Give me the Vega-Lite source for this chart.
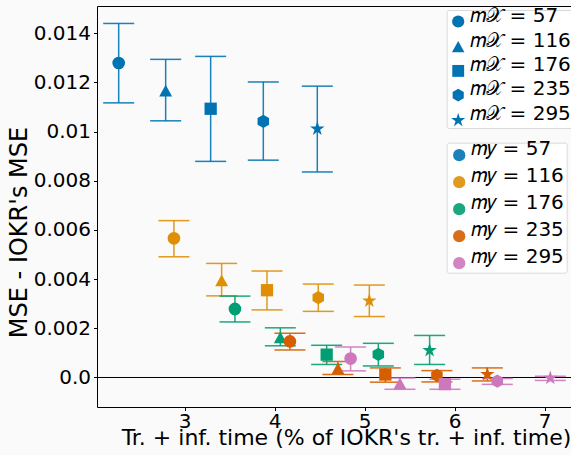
{
  "$schema": "https://vega.github.io/schema/vega-lite/v6.json",
  "width": 474,
  "height": 401,
  "autosize": {"type": "none"},
  "padding": {"left": 97, "top": 6, "right": 0, "bottom": 48},
  "background": "#fafafa",
  "config": {
    "view": {"stroke": null},
    "font": "DejaVu Sans",
    "axis": {
      "labelFont": "DejaVu Sans",
      "titleFont": "DejaVu Sans",
      "grid": false,
      "domainColor": "black",
      "domainWidth": 1,
      "tickColor": "black",
      "labelColor": "black",
      "titleColor": "black",
      "titleFontWeight": "normal",
      "labelFontSize": 20,
      "titleFontSize": 22
    }
  },
  "data": {
    "values": [
      {"mx": "57", "my": 57, "t": 2.267, "d": 0.01279, "lo": 0.01117, "hi": 0.0144},
      {"mx": "116", "my": 57, "t": 2.789, "d": 0.01167, "lo": 0.01044, "hi": 0.01294},
      {"mx": "176", "my": 57, "t": 3.289, "d": 0.01093, "lo": 0.00879, "hi": 0.01306},
      {"mx": "235", "my": 57, "t": 3.874, "d": 0.01042, "lo": 0.00884, "hi": 0.01202},
      {"mx": "295", "my": 57, "t": 4.474, "d": 0.01011, "lo": 0.00836, "hi": 0.01185},
      {"mx": "57", "my": 116, "t": 2.881, "d": 0.00566, "lo": 0.00491, "hi": 0.00638},
      {"mx": "116", "my": 116, "t": 3.411, "d": 0.00395, "lo": 0.00332, "hi": 0.00464},
      {"mx": "176", "my": 116, "t": 3.915, "d": 0.00355, "lo": 0.00275, "hi": 0.00433},
      {"mx": "235", "my": 116, "t": 4.485, "d": 0.00325, "lo": 0.00269, "hi": 0.0038},
      {"mx": "295", "my": 116, "t": 5.052, "d": 0.00312, "lo": 0.00248, "hi": 0.00376},
      {"mx": "57", "my": 176, "t": 3.559, "d": 0.00279, "lo": 0.00226, "hi": 0.00331},
      {"mx": "116", "my": 176, "t": 4.063, "d": 0.00163, "lo": 0.00129, "hi": 0.00202},
      {"mx": "176", "my": 176, "t": 4.578, "d": 0.00093, "lo": 0.00053, "hi": 0.00131},
      {"mx": "235", "my": 176, "t": 5.152, "d": 0.00094, "lo": 0.00047, "hi": 0.00139},
      {"mx": "295", "my": 176, "t": 5.722, "d": 0.0011, "lo": 0.00053, "hi": 0.00171},
      {"mx": "57", "my": 235, "t": 4.17, "d": 0.00147, "lo": 0.00112, "hi": 0.0018},
      {"mx": "116", "my": 235, "t": 4.703, "d": 0.00037, "lo": 0.00012, "hi": 0.00065},
      {"mx": "176", "my": 235, "t": 5.23, "d": 0.00012, "lo": -0.00019, "hi": 0.00039},
      {"mx": "235", "my": 235, "t": 5.803, "d": 0.00009, "lo": -0.00018, "hi": 0.00028},
      {"mx": "295", "my": 235, "t": 6.363, "d": 0.00013, "lo": -0.00014, "hi": 0.00039},
      {"mx": "57", "my": 295, "t": 4.844, "d": 0.00077, "lo": 0.00027, "hi": 0.00124},
      {"mx": "116", "my": 295, "t": 5.392, "d": -0.00024, "lo": -0.00048, "hi": -0.00002},
      {"mx": "176", "my": 295, "t": 5.892, "d": -0.00027, "lo": -0.00048, "hi": -0.00007},
      {"mx": "235", "my": 295, "t": 6.474, "d": -0.00015, "lo": -0.00028, "hi": -0.00004},
      {"mx": "295", "my": 295, "t": 7.063, "d": -0.00002, "lo": -0.00012, "hi": 0.00005}
    ]
  },
  "resolve": {"axis": {"x": "independent"}},
  "layer": [
    {
      "data": {"values": [{"ref": 0}]},
      "mark": {"type": "rule", "color": "black", "strokeWidth": 1},
      "encoding": {
        "y": {"field": "ref", "type": "quantitative",
              "scale": {"domain": [-0.0012, 0.01511], "nice": false, "zero": false},
              "axis": {"values": [0, 0.002, 0.004, 0.006, 0.008, 0.01, 0.012, 0.014], "tickSize": 3.5, "labelPadding": 3,
                       "labelExpr": "datum.value == 0 ? '0.0' : format(datum.value, '~g')",
                       "title": "MSE - IOKR's MSE", "titleFontSize": 24,
                       "titleBaseline": "alphabetic", "titleX": -71, "titleY": 226, "titleAlign": "center", "titleAngle": -90}}
      }
    },
    {
      "mark": {"type": "rule", "strokeWidth": 1.5, "opacity": 0.9},
      "encoding": {
        "x": {"field": "t", "type": "quantitative", "scale": {"domain": [2.026, 7.293], "nice": false, "zero": false},
              "axis": {"orient": "top", "labels": false, "ticks": false, "title": null, "domain": true}},
        "y": {"field": "lo", "type": "quantitative"},
        "y2": {"field": "hi"},
        "color": {"field": "my", "type": "nominal",
                  "scale": {"domain": [57, 116, 176, 235, 295], "range": ["#0173b2", "#de8f05", "#029e73", "#d55e00", "#cc78bc"]}}
      }
    },
    {
      "mark": {"type": "tick", "orient": "horizontal", "size": 31, "thickness": 1.5, "opacity": 0.9},
      "encoding": {
        "x": {"field": "t", "type": "quantitative", "axis": null},
        "y": {"field": "lo", "type": "quantitative"},
        "color": {"field": "my", "type": "nominal"}
      }
    },
    {
      "mark": {"type": "tick", "orient": "horizontal", "size": 31, "thickness": 1.5, "opacity": 0.9},
      "encoding": {
        "x": {"field": "t", "type": "quantitative", "axis": null},
        "y": {"field": "hi", "type": "quantitative"},
        "color": {"field": "my", "type": "nominal"}
      }
    },
    {
      "mark": {"type": "point", "filled": true, "opacity": 1, "size": 160, "color": "#0173b2", "strokeWidth": 0},
      "encoding": {
        "x": {"field": "t", "type": "quantitative",
              "axis": {"orient": "bottom", "values": [3, 4, 5, 6, 7], "tickSize": 3.5, "labelPadding": 1,
                       "title": "Tr. + inf. time (% of IOKR's tr. + inf. time)",
                       "titleBaseline": "alphabetic", "titleX": 249, "titleY": 37.5, "titleAlign": "center"}},
        "y": {"field": "d", "type": "quantitative"},
        "shape": {"field": "mx", "type": "nominal",
                  "scale": {"domain": ["57", "116", "176", "235", "295"],
                            "range": ["circle",
                                      "M0,-0.92L1.02,0.92L-1.02,0.92Z",
                                      "M-0.97,-0.97L0.97,-0.97L0.97,0.97L-0.97,0.97Z",
                                      "M0,-1.05L0.909,-0.525L0.909,0.525L0,1.05L-0.909,0.525L-0.909,-0.525Z",
                                      "M0,-1.2L0.27,-0.371L1.141,-0.371L0.437,0.142L0.705,0.971L0,0.459L-0.705,0.971L-0.437,0.142L-1.141,-0.371L-0.27,-0.371Z"]},
                  "legend": {"orient": "none", "legendX": 349.7, "legendY": 4, "title": null,
                             "labelExpr": "'𝑚𝒳 = ' + datum.label",
                             "labelFont": "DejaVu Sans", "labelFontSize": 20, "labelBaseline": "alphabetic", "labelOffset": 2,
                             "symbolSize": 150, "symbolFillColor": "#0173b2", "symbolStrokeWidth": 0, "symbolOpacity": 1,
                             "padding": 1.5, "rowPadding": 2.2, "fillColor": "white", "strokeColor": "#d9d9d9", "cornerRadius": 2}},
        "color": {"field": "my", "type": "nominal",
                  "legend": {"orient": "none", "legendX": 349.7, "legendY": 136.7, "title": null,
                             "labelExpr": "'𝑚𝑦 = ' + datum.label",
                             "labelFont": "DejaVu Sans", "labelFontSize": 20, "labelBaseline": "alphabetic", "labelOffset": 2,
                             "symbolSize": 150, "symbolType": "circle", "symbolStrokeWidth": 0, "symbolOpacity": 1,
                             "padding": 2.5, "rowPadding": 4.0, "fillColor": "white", "strokeColor": "#d9d9d9", "cornerRadius": 2}}
      }
    }
  ]
}
